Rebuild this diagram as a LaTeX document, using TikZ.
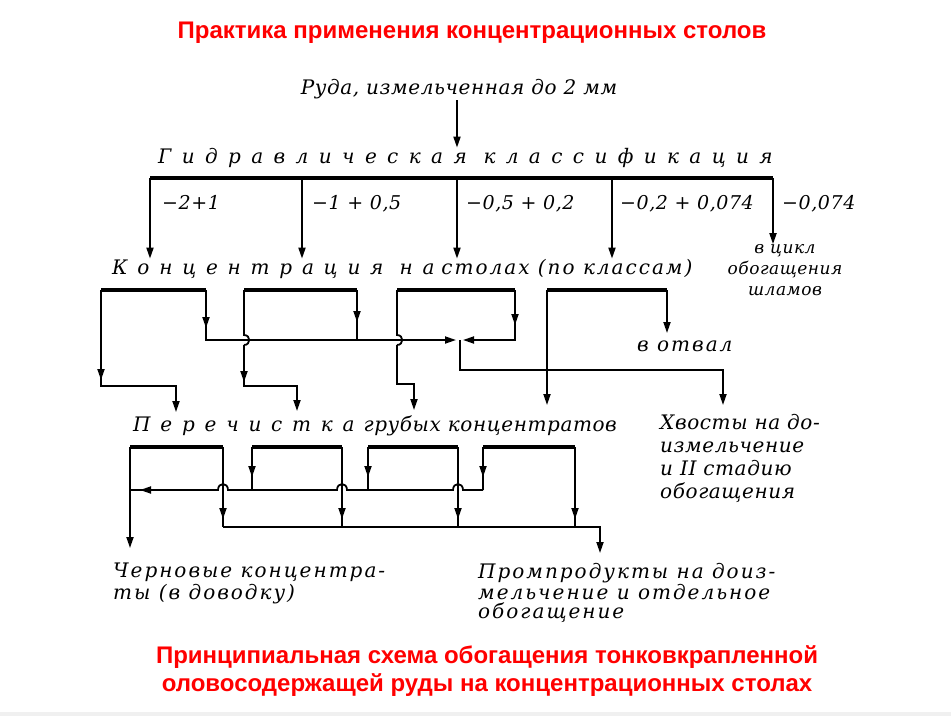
\documentclass[tikz,border=0pt]{standalone}
\usepackage{fontspec}
\setmainfont{DejaVu Serif}
\newfontfamily\titlefont{Liberation Sans}
\newfontfamily\handfont[LetterSpace=3]{DejaVu Serif}
\newfontfamily\handmid[LetterSpace=10]{DejaVu Serif}
\newfontfamily\handspread[LetterSpace=49]{DejaVu Serif}
\newfontfamily\handwide[LetterSpace=52]{DejaVu Serif}
\usetikzlibrary{arrows.meta, positioning, decorations.markings}
\definecolor{headred}{RGB}{255,0,0}

\tikzset{
  redtitle/.style={font=\titlefont\bfseries\fontsize{24}{28}\selectfont, text=headred, align=center},
  hand/.style={font=\handfont\itshape\fontsize{20}{22}\selectfont, inner sep=0pt},
  wire/.style={line width=1.8pt},
  bar/.style={line width=3.4pt},
  flow/.style={wire, -{Triangle[length=11pt,width=7pt]}},
  midarrow/.style={postaction={decorate}, decoration={markings,
      mark=at position #1 with {\arrow{Triangle[length=11pt,width=7pt]}}}}
}

\begin{document}
\begin{tikzpicture}[x=1pt, y=-1pt]
  \useasboundingbox (0,0) rectangle (951,716);
  \fill[gray!12] (0,712) rectangle (951,716);

  % заголовки
  \node[redtitle] (head) at (472,33) {Практика применения концентрационных столов};
  \node[redtitle] (caption) at (487,671) {Принципиальная схема обогащения тонковкрапленной\\оловосодержащей руды на концентрационных столах};

  % руда и классификация
  \node[hand, anchor=base] (ore) at (459,94) {Руда, измельченная до 2 мм};
  \node[hand, anchor=base west] (hydro) at (158,163) {\handwide\itshape Гидравлическая классификация};
  \coordinate (oreOut) at (457,100);
  \draw[flow] (oreOut) -- (oreOut |- hydro.north);

  \node[hand, anchor=base west] (conc) at (112,274) {{\handspread\itshape Концентрация на} {\handmid\itshape столах (по классам)}};
  \node[hand, align=center, font=\handfont\itshape\fontsize{17}{21}\selectfont] (slimes) at (785,270) {в цикл\\обогащения\\шламов};

  \coordinate (clsL) at (150,178);
  \coordinate (clsR) at (773,178);
  \draw[bar] (clsL) -- (clsR);
  \foreach \x [count=\i] in {150,302,457,612} {
    \coordinate (cls\i) at (\x,178);
    \draw[flow] (cls\i) -- (cls\i |- conc.north);
  }
  \draw[flow] (clsR) -- (clsR |- slimes.north);

  % классы крупности
  \foreach \x/\t [count=\i] in {162/{−2+1}, 312/{−1 + 0,5}, 466/{−0,5 + 0,2}, 620/{−0,2 + 0,074}, 782/{−0,074}} {
    \node[hand, anchor=base west, font=\handfont\itshape\fontsize{19}{22}\selectfont] (size\i) at (\x,209) {\t};
  }

  % концентрация на столах
  \foreach \i/\l/\r in {1/101/206, 2/244/357, 3/397/515, 4/547/667} {
    \coordinate (kL\i) at (\l,290);
    \coordinate (kR\i) at (\r,290);
    \draw[bar] (kL\i) -- (kR\i);
  }
  \node[hand, anchor=base west] (dump) at (637,351) {\handmid\itshape в отвал};
  \node[hand, anchor=base west] (clean) at (133,431) {{\handspread\itshape Перечистка}\hspace{2pt} грубых концентратов};
  \node[hand, anchor=north west, align=left, font=\handfont\itshape\fontsize{20}{23}\selectfont] (tails) at (660,414) {Хвосты на до-\\измельчение\\и II стадию\\обогащения};

  \coordinate (in1) at (176,412);
  \coordinate (in2) at (297,411);
  \coordinate (in3) at (414,410);
  \coordinate (in4) at (547,405);
  \coordinate (mixL) at (456,340);
  \coordinate (mixR) at (463,340);
  \coordinate (mix) at (460,340);
  \coordinate (toDump) at (667,333);
  \coordinate (toTails) at (723,405);

  \draw[flow, midarrow=90pt] (kL1) -- ++(0,96) -| (in1);
  \draw[flow, midarrow=38pt] (kR1) |- (mixL);
  \draw[wire, midarrow=32pt] (kR2) -- (kR2 |- mix);
  \draw[wire] (kL2) -- ++(0,45) .. controls +(7,0) and +(7,0) .. ++(0,10) coordinate (h2);
  \draw[flow, midarrow=37pt] (h2) -- ++(0,41) -| (in2);
  \draw[flow, midarrow=35pt] (kR3) |- (mixR);
  \draw[wire] (kL3) -- ++(0,45) .. controls +(7,0) and +(7,0) .. ++(0,10) coordinate (h3);
  \draw[flow] (h3) -- ++(0,39) -| (in3);
  \draw[flow] (mix) -- ++(0,30) -| (toTails);
  \draw[flow] (kR4) -- (toDump);
  \draw[flow] (kL4) -- (in4);

  % перечистка
  \foreach \i/\l/\r in {1/130/223, 2/252/342, 3/368/458, 4/483/575} {
    \coordinate (pL\i) at (\l,447);
    \coordinate (pR\i) at (\r,447);
    \draw[bar] (pL\i) -- (pR\i);
    \draw[wire, midarrow=72pt] (pR\i) -- ++(0,80);
  }
  \foreach \i in {2,3,4} {
    \draw[wire, midarrow=30pt] (pL\i) -- ++(0,43);
  }
  \coordinate (m4) at (483,490);
  \coordinate (bL) at (223,527);
  \coordinate (toMidd) at (600,553);
  \coordinate (toRough) at (130,548);
  \draw[wire, midarrow=-10pt] (m4) -- (463,490) .. controls +(0,-8) and +(0,-8) .. ++(-10,0)
    -- (347,490) .. controls +(0,-8) and +(0,-8) .. ++(-10,0)
    -- (228,490) .. controls +(0,-8) and +(0,-8) .. ++(-10,0)
    -- (pL1 |- m4);
  \draw[flow] (bL) -| (toMidd);
  \draw[flow] (pL1) -- (toRough);

  \node[hand, anchor=north west, align=left, font=\handmid\itshape\fontsize{20}{22}\selectfont] (rough) at (113,563) {Черновые концентра-\\ты (в доводку)};
  \node[hand, anchor=north west, align=left, font=\handmid\itshape\fontsize{20}{19}\selectfont] (midd) at (478,563) {Промпродукты на доиз-\\мельчение и отдельное\\обогащение};
\end{tikzpicture}
\end{document}
